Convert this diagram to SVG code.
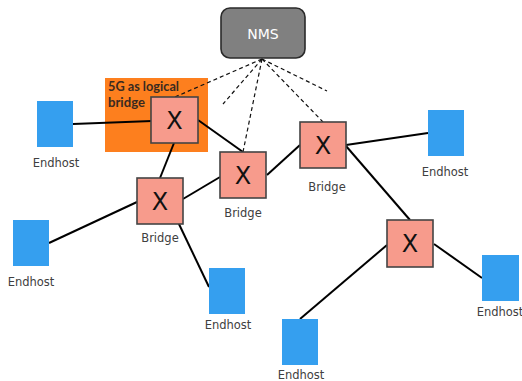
<svg xmlns="http://www.w3.org/2000/svg" width="522" height="381" viewBox="0 0 522 381">
<style>
.host{fill:#359FEF}
.br{fill:#F79B8C;stroke:#444;stroke-width:1.6}
.x{font-family:"DejaVu Sans",sans-serif;font-size:24px;fill:#111;text-anchor:middle}
.lbl{font-family:"DejaVu Sans",sans-serif;font-size:11.5px;fill:#404040;text-anchor:middle}
.ln{stroke:#000;stroke-width:2;fill:none}
.dash{stroke:#111;stroke-width:1.2;stroke-dasharray:4 3;fill:none}
.t5g{font-family:Lato,"Open Sans",sans-serif;font-size:13px;font-weight:bold;fill:#3a2a20}
</style>
<rect x="0" y="0" width="522" height="381" fill="#fff"/>
<g id="logical-bridge-area">
<rect x="105" y="78" width="103" height="74" fill="#FD7F1E"/>
<text class="t5g" x="108" y="90.5" textLength="71" lengthAdjust="spacingAndGlyphs">5G as logical</text>
<text class="t5g" x="108" y="106.5" textLength="37" lengthAdjust="spacingAndGlyphs">bridge</text>
</g>
<g id="connectors">
<line class="dash" x1="262" y1="59" x2="175" y2="97"/>
<line class="dash" x1="262" y1="59" x2="223" y2="104"/>
<line class="dash" x1="262" y1="59" x2="243" y2="152"/>
<line class="dash" x1="262" y1="59" x2="323" y2="122"/>
<line class="dash" x1="262" y1="59" x2="327" y2="91"/>
<line class="ln" x1="73" y1="124" x2="152" y2="121"/>
<line class="ln" x1="174" y1="143" x2="160" y2="178"/>
<line class="ln" x1="198" y1="120" x2="243" y2="152"/>
<line class="ln" x1="183" y1="199" x2="220" y2="177"/>
<line class="ln" x1="137" y1="202" x2="49" y2="243"/>
<line class="ln" x1="178" y1="222" x2="209" y2="287"/>
<line class="ln" x1="267" y1="175" x2="300" y2="145"/>
<line class="ln" x1="346" y1="145" x2="428" y2="133"/>
<line class="ln" x1="346" y1="146" x2="410" y2="220"/>
<line class="ln" x1="387" y1="245" x2="300" y2="319"/>
<line class="ln" x1="434" y1="244" x2="482" y2="278"/>
</g>
<g id="nms">
<rect x="221" y="8" width="84" height="50" rx="9" fill="#808080" stroke="#2a2a2a" stroke-width="1.6"/>
<text x="263" y="39" font-family="'DejaVu Sans',sans-serif" font-size="14px" fill="#fff" text-anchor="middle">NMS</text>
</g>
<g id="bridge1">
<rect class="br" x="151" y="97" width="47" height="46"/>
<text class="x" x="174.5" y="129">X</text>
</g>
<g id="bridge2">
<rect class="br" x="220" y="152" width="46" height="46"/>
<text class="x" x="243" y="184">X</text>
<text class="lbl" x="243" y="217">Bridge</text>
</g>
<g id="bridge3">
<rect class="br" x="137" y="178" width="46" height="46"/>
<text class="x" x="160" y="210">X</text>
<text class="lbl" x="160" y="242">Bridge</text>
</g>
<g id="bridge4">
<rect class="br" x="300" y="122" width="46" height="46"/>
<text class="x" x="323" y="154">X</text>
<text class="lbl" x="327" y="191">Bridge</text>
</g>
<g id="bridge5">
<rect class="br" x="387" y="220" width="46" height="47"/>
<text class="x" x="410" y="252">X</text>
</g>
<g id="endhost1">
<rect class="host" x="37" y="101" width="36" height="46"/>
<text class="lbl" x="56" y="167">Endhost</text>
</g>
<g id="endhost2">
<rect class="host" x="13" y="220" width="36" height="46"/>
<text class="lbl" x="31" y="286">Endhost</text>
</g>
<g id="endhost3">
<rect class="host" x="428" y="110" width="36" height="46"/>
<text class="lbl" x="445" y="176">Endhost</text>
</g>
<g id="endhost4">
<rect class="host" x="209" y="268" width="36" height="46"/>
<text class="lbl" x="228" y="329">Endhost</text>
</g>
<g id="endhost5">
<rect class="host" x="282" y="319" width="36" height="46"/>
<text class="lbl" x="301" y="379">Endhost</text>
</g>
<g id="endhost6">
<rect class="host" x="482" y="255" width="37" height="46"/>
<text class="lbl" x="500" y="316">Endhost</text>
</g>
</svg>
